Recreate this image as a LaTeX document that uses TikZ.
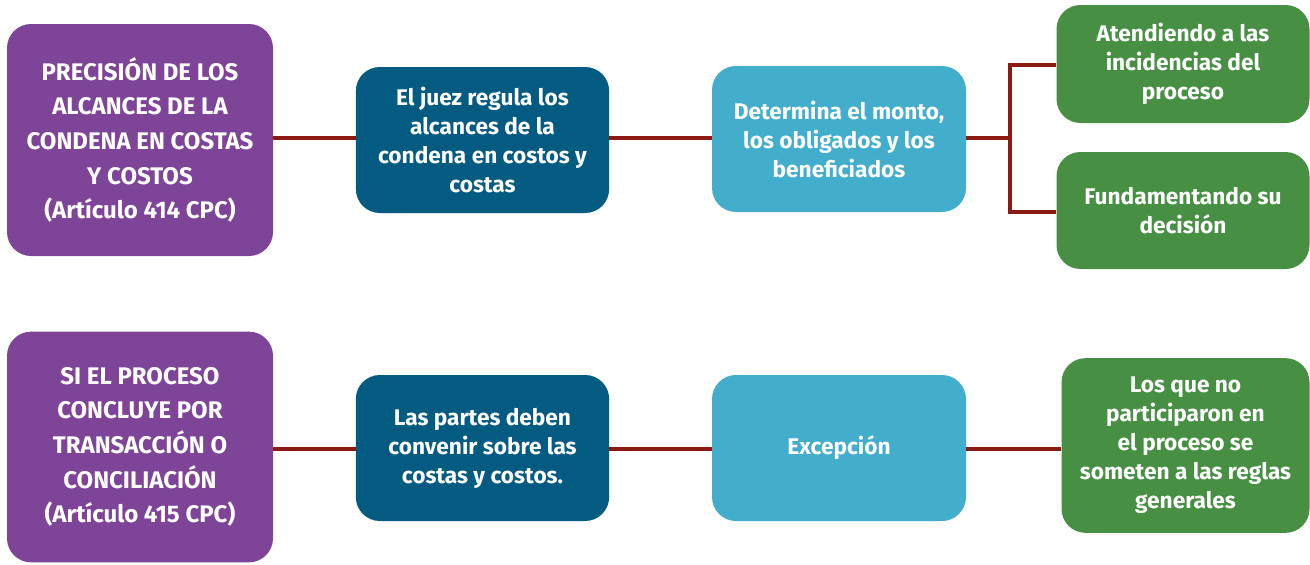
\documentclass[tikz,border=0pt]{standalone}
\usepackage{fontspec}
\setmainfont{Fira Sans}
\definecolor{cpurple}{HTML}{7E4497}
\definecolor{cdblue}{HTML}{035B82}
\definecolor{clblue}{HTML}{43ADCC}
\definecolor{cgreen}{HTML}{468F43}
\definecolor{cline}{HTML}{8C1A12}
\begin{document}
\begin{tikzpicture}[x=0.75pt,y=-0.75pt,
  box/.style={rounded corners=18pt, align=center, text=white, inner sep=0pt,
    font=\fontsize{17}{21.75}\selectfont\bfseries},
  purplebox/.style={box, fill=cpurple, minimum width=199.5pt, minimum height=174pt,
    font=\fontsize{18}{26}\selectfont\bfseries},
  dbluebox/.style={box, fill=cdblue, minimum width=190pt, minimum height=109.5pt},
  lbluebox/.style={box, fill=clblue, minimum width=190.5pt, minimum height=109.5pt},
  greenbox/.style={box, fill=cgreen},
  conn/.style={draw=cline, line width=2.3pt}]
\useasboundingbox (0,0) rectangle (1310,564);
% row 1
\node[purplebox] (p1) at (140,140) {PRECISIÓN DE LOS\\ALCANCES DE LA\\CONDENA EN COSTAS\\Y COSTOS\\(Artículo 414 CPC)};
\node[dbluebox] (b1) at (482.5,140) {El juez regula los\\alcances de la\\condena en costos y\\costas};
\node[lbluebox] (l1) at (839,139) {Determina el monto,\\los obligados y los\\beneficiados};
\node[greenbox, minimum width=189.75pt, minimum height=88.5pt] (g1) at (1183,64) {Atendiendo a las\\incidencias del\\proceso};
\node[greenbox, minimum width=189.75pt, minimum height=87.75pt] (g2) at (1183,210.5) {Fundamentando su\\decisión};
\coordinate (br) at (1010,138);
\draw[conn] (p1.east |- 0,138) -- (b1.west |- 0,138);
\draw[conn] (b1.east |- 0,138) -- (l1.west |- 0,138);
\draw[conn] (l1.east |- 0,138) -- (br);
\draw[conn] (g1.west |- 0,65) -| (br) |- (g2.west |- 0,212);
% row 2
\node[purplebox, minimum height=173pt] (p2) at (140,447) {SI EL PROCESO\\CONCLUYE POR\\TRANSACCIÓN O\\CONCILIACIÓN\\(Artículo 415 CPC)};
\node[dbluebox] (b2) at (482.5,448) {Las partes deben\\convenir sobre las\\costas y costos.};
\node[lbluebox] (l2) at (839,448) {Excepción};
\node[greenbox, minimum width=186pt, minimum height=131pt] (g3) at (1185.5,445.5) {Los que no\\participaron en\\el proceso se\\someten a las reglas\\generales};
\draw[conn] (p2.east |- 0,449) -- (b2.west |- 0,449);
\draw[conn] (b2.east |- 0,449) -- (l2.west |- 0,449);
\draw[conn] (l2.east |- 0,449) -- (g3.west |- 0,449);
\end{tikzpicture}
\end{document}
